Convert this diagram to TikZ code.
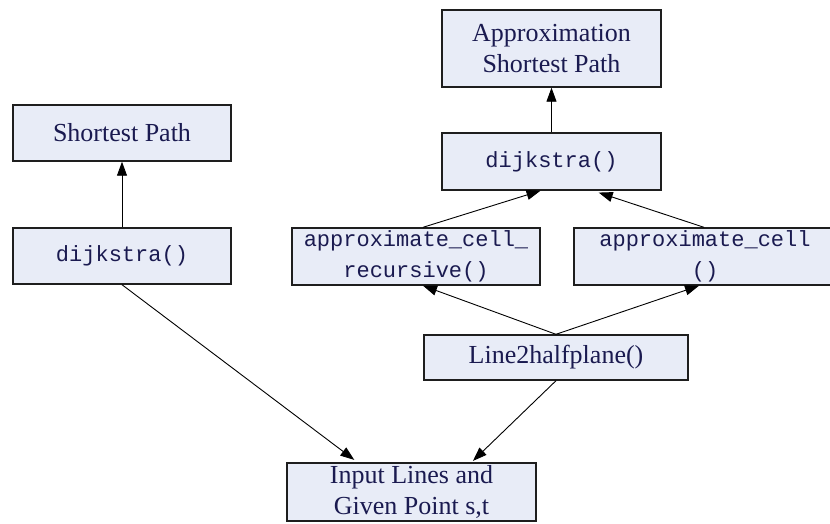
\documentclass[tikz,border=0pt]{standalone}
\usepackage{fontspec}
\setmainfont{Liberation Serif}
\setmonofont{Liberation Mono}
\usetikzlibrary{arrows.meta}
\definecolor{boxfill}{HTML}{E8ECF7}
\definecolor{boxtext}{HTML}{1A1A50}
\definecolor{boxline}{HTML}{1E1E1E}
\begin{document}
\begin{tikzpicture}[x=1pt, y=-1pt,
    every node/.style={rectangle, draw=boxline, line width=1.4pt, fill=boxfill,
      text=boxtext, inner sep=0pt, align=center},
    serifbox/.style={font=\fontsize{26}{31}\selectfont},
    monobox/.style={font=\ttfamily\fontsize{22}{31}\selectfont},
    link/.style={line width=0.9pt, -{Triangle[length=14pt, width=10pt]}}]
    \useasboundingbox (0,0) rectangle (830,523);
    \clip (0,0) rectangle (830,523);
    % Left column
    \node[serifbox, minimum width=218pt, minimum height=56pt] (sp) at (122,133) {Shortest Path};
    \node[monobox, minimum width=218pt, minimum height=56pt] (dl) at (122,256) {dijkstra()};

    % Right column
    \node[serifbox, minimum width=219pt, minimum height=77pt] (asp) at (551.5,48.5) {Approximation\\Shortest Path};
    \node[monobox, minimum width=219pt, minimum height=57pt] (dr) at (551.5,161.5) {dijkstra()};
    \node[monobox, minimum width=248pt, minimum height=57pt] (acr) at (416,256.5) {approximate\_cell\_\\recursive()};
    \node[monobox, minimum width=262pt, minimum height=57pt] (ac) at (705,256.5) {approximate\_cell\\()};
    \node[serifbox, minimum width=264pt, minimum height=45pt] (lh) at (556,357.5) {Line2halfplane()};

    % Input
    \node[serifbox, minimum width=249pt, minimum height=58pt] (inp) at (411.5,492) {Input Lines and\\Given Point s,t};

    % Connectors
    \draw[link] (dl.north) -- (sp.south);
    \draw[link] (dr.north) -- (asp.south);
    \draw[link, shorten >=4pt] (dl.south) -- ([xshift=-54pt]inp.north);
    \draw[link, shorten >=2pt] (lh.south) -- ([xshift=60pt]inp.north);
    \draw[link] (lh.north) -- ([xshift=7pt]acr.south);
    \draw[link] (lh.north) -- ([xshift=-6pt]ac.south);
    \draw[link] ([xshift=7pt]acr.north) -- ([xshift=-11pt]dr.south);
    \draw[link, shorten >=6pt] ([xshift=-1pt]ac.north) -- ([xshift=41.5pt]dr.south);
\end{tikzpicture}
\end{document}
